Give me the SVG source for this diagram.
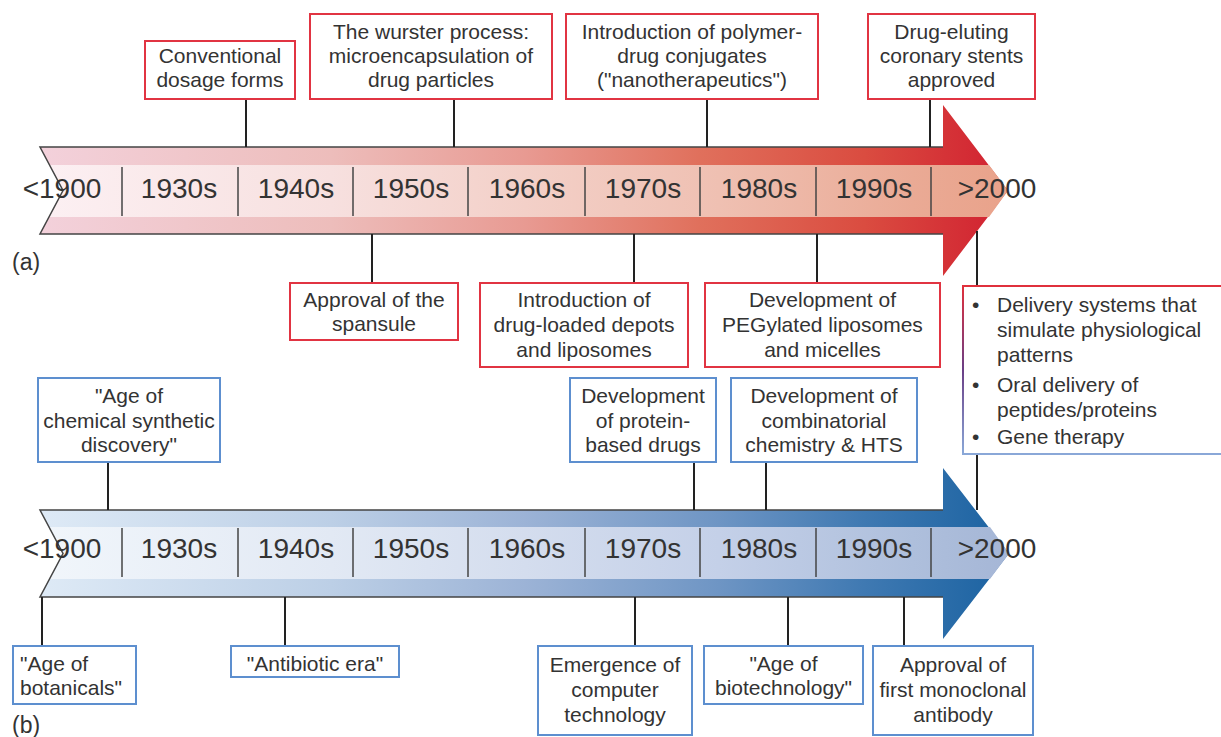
<svg xmlns="http://www.w3.org/2000/svg" width="1221" height="737" viewBox="0 0 1221 737">
<defs>
<linearGradient id="redOuter" gradientUnits="userSpaceOnUse" x1="40" y1="0" x2="1010" y2="0">
<stop offset="0" stop-color="#f3d1db"/>
<stop offset="0.3" stop-color="#edbdbb"/>
<stop offset="0.5" stop-color="#e89a92"/>
<stop offset="0.68" stop-color="#e0705c"/>
<stop offset="0.85" stop-color="#da4c40"/>
<stop offset="1" stop-color="#d11f30"/>
</linearGradient>
<linearGradient id="redBand" gradientUnits="userSpaceOnUse" x1="40" y1="0" x2="1010" y2="0">
<stop offset="0" stop-color="#fcf0f3"/>
<stop offset="0.3" stop-color="#f7e0df"/>
<stop offset="0.5" stop-color="#f3d0c8"/>
<stop offset="0.7" stop-color="#efc0b2"/>
<stop offset="0.9" stop-color="#eaaa95"/>
<stop offset="1" stop-color="#e9a28a"/>
</linearGradient>
<linearGradient id="blueOuter" gradientUnits="userSpaceOnUse" x1="40" y1="0" x2="1010" y2="0">
<stop offset="0" stop-color="#deeaf6"/>
<stop offset="0.3" stop-color="#bccfe6"/>
<stop offset="0.5" stop-color="#9cb3d6"/>
<stop offset="0.7" stop-color="#6e95c4"/>
<stop offset="0.85" stop-color="#3f79b2"/>
<stop offset="1" stop-color="#1a62a1"/>
</linearGradient>
<linearGradient id="blueBand" gradientUnits="userSpaceOnUse" x1="40" y1="0" x2="1010" y2="0">
<stop offset="0" stop-color="#f1f6fb"/>
<stop offset="0.3" stop-color="#e2e9f4"/>
<stop offset="0.5" stop-color="#d4ddee"/>
<stop offset="0.7" stop-color="#c4d0e8"/>
<stop offset="0.9" stop-color="#aebfdc"/>
<stop offset="1" stop-color="#a5b6d6"/>
</linearGradient>
<linearGradient id="mixStroke" x1="0" y1="0" x2="0" y2="1">
<stop offset="0" stop-color="#e0303c"/>
<stop offset="0.5" stop-color="#6a3f86"/>
<stop offset="1" stop-color="#8aa8d8"/>
</linearGradient>
<style>
.t{font-family:"Liberation Sans",Arial,sans-serif;font-size:21px;fill:#333;text-anchor:middle}
.tl{font-family:"Liberation Sans",Arial,sans-serif;font-size:21px;fill:#333}
.yr{font-family:"Liberation Sans",Arial,sans-serif;font-size:28px;fill:#333;text-anchor:middle}
.lab{font-family:"Liberation Sans",Arial,sans-serif;font-size:23px;fill:#333}
.rb{fill:#fff;stroke:#e13442;stroke-width:2}
.bb{fill:#fff;stroke:#5d8fcf;stroke-width:2}
.con{stroke:#222;stroke-width:2;fill:none}
.edge{stroke:#444;stroke-width:1.5;fill:none}
.div{stroke:#444;stroke-width:1.5}
</style>
</defs>
<rect width="1221" height="737" fill="#fff"/>

<!-- Arrow (a) -->
<g id="arrow-a">
<path d="M40,147 L943,147 L943,105 L1008,190.5 L943,276 L943,234 L40,234 L63,190.5 Z" fill="url(#redOuter)"/>
<path d="M49.5,165 L989,165 L1008,190.5 L989,217 L49,217 L63,190.5 Z" fill="url(#redBand)"/>
<path class="edge" d="M943,147 L40,147 L63,190.5 L40,234 L943,234"/>
<g class="div">
<line x1="122" y1="167" x2="122" y2="216"/><line x1="238" y1="167" x2="238" y2="216"/>
<line x1="353" y1="167" x2="353" y2="216"/><line x1="468" y1="167" x2="468" y2="216"/>
<line x1="585" y1="167" x2="585" y2="216"/><line x1="700" y1="167" x2="700" y2="216"/>
<line x1="816" y1="167" x2="816" y2="216"/><line x1="931" y1="167" x2="931" y2="216"/>
</g>
<text class="yr" x="62" y="198">&lt;1900</text>
<text class="yr" x="179" y="198">1930s</text>
<text class="yr" x="296" y="198">1940s</text>
<text class="yr" x="411" y="198">1950s</text>
<text class="yr" x="527" y="198">1960s</text>
<text class="yr" x="643" y="198">1970s</text>
<text class="yr" x="759" y="198">1980s</text>
<text class="yr" x="874" y="198">1990s</text>
<text class="yr" x="997" y="198">&gt;2000</text>
</g>
<text class="lab" x="12" y="270">(a)</text>

<!-- Arrow (b) -->
<g id="arrow-b">
<path d="M40,510 L943,510 L943,468 L1009,553.5 L943,639 L943,597 L40,597 L63,553.5 Z" fill="url(#blueOuter)"/>
<path d="M49.5,527 L990,527 L1009,553.5 L990,579 L49,579 L63,553.5 Z" fill="url(#blueBand)"/>
<path class="edge" d="M943,510 L40,510 L63,553.5 L40,597 L943,597"/>
<g class="div">
<line x1="122" y1="528" x2="122" y2="577"/><line x1="238" y1="528" x2="238" y2="577"/>
<line x1="353" y1="528" x2="353" y2="577"/><line x1="468" y1="528" x2="468" y2="577"/>
<line x1="585" y1="528" x2="585" y2="577"/><line x1="700" y1="528" x2="700" y2="577"/>
<line x1="816" y1="528" x2="816" y2="577"/><line x1="931" y1="528" x2="931" y2="577"/>
</g>
<text class="yr" x="62" y="558">&lt;1900</text>
<text class="yr" x="179" y="558">1930s</text>
<text class="yr" x="296" y="558">1940s</text>
<text class="yr" x="411" y="558">1950s</text>
<text class="yr" x="527" y="558">1960s</text>
<text class="yr" x="643" y="558">1970s</text>
<text class="yr" x="759" y="558">1980s</text>
<text class="yr" x="874" y="558">1990s</text>
<text class="yr" x="997" y="558">&gt;2000</text>
</g>
<text class="lab" x="12" y="733">(b)</text>

<!-- Connectors -->
<g id="connectors" class="con">
<line x1="246" y1="99" x2="246" y2="147"/>
<line x1="454" y1="99" x2="454" y2="147"/>
<line x1="707" y1="99" x2="707" y2="147"/>
<line x1="930" y1="99" x2="930" y2="147"/>
<line x1="372" y1="234" x2="372" y2="283"/>
<line x1="634" y1="234" x2="634" y2="283"/>
<line x1="817" y1="234" x2="817" y2="283"/>
<line x1="977" y1="231" x2="977" y2="286"/>
<line x1="977" y1="454" x2="977" y2="510"/>
<line x1="108" y1="462" x2="108" y2="510"/>
<line x1="694" y1="462" x2="694" y2="510"/>
<line x1="766" y1="462" x2="766" y2="510"/>
<line x1="42" y1="597" x2="42" y2="646"/>
<line x1="285" y1="597" x2="285" y2="646"/>
<line x1="635" y1="597" x2="635" y2="646"/>
<line x1="788" y1="597" x2="788" y2="646"/>
<line x1="904" y1="597" x2="904" y2="646"/>
</g>

<!-- Red nodes (a) -->
<g id="conventional">
<rect class="rb" x="145" y="41" width="150" height="58"/>
<text class="t" x="220" y="63">Conventional</text>
<text class="t" x="220" y="87">dosage forms</text>
</g>
<g id="wurster">
<rect class="rb" x="310" y="14" width="242" height="85"/>
<text class="t" x="431" y="39">The wurster process:</text>
<text class="t" x="431" y="63">microencapsulation of</text>
<text class="t" x="431" y="87">drug particles</text>
</g>
<g id="polymer">
<rect class="rb" x="566" y="14" width="252" height="85"/>
<text class="t" x="692" y="39">Introduction of polymer-</text>
<text class="t" x="692" y="63">drug conjugates</text>
<text class="t" x="692" y="87">("nanotherapeutics")</text>
</g>
<g id="stents">
<rect class="rb" x="868" y="14" width="167" height="85"/>
<text class="t" x="951.5" y="39">Drug-eluting</text>
<text class="t" x="951.5" y="63">coronary stents</text>
<text class="t" x="951.5" y="87">approved</text>
</g>
<g id="spansule">
<rect class="rb" x="290" y="283" width="168" height="57"/>
<text class="t" x="374" y="307">Approval of the</text>
<text class="t" x="374" y="331">spansule</text>
</g>
<g id="depots">
<rect class="rb" x="480" y="283" width="208" height="84"/>
<text class="t" x="584" y="307">Introduction of</text>
<text class="t" x="584" y="332">drug-loaded depots</text>
<text class="t" x="584" y="357">and liposomes</text>
</g>
<g id="pegylated">
<rect class="rb" x="705" y="283" width="235" height="84"/>
<text class="t" x="822.5" y="307">Development of</text>
<text class="t" x="822.5" y="332">PEGylated liposomes</text>
<text class="t" x="822.5" y="357">and micelles</text>
</g>
<g id="future">
<rect x="963" y="286" width="262" height="168" fill="#fff" stroke="url(#mixStroke)" stroke-width="2"/>
<text class="tl" x="972" y="312">•</text>
<text class="tl" x="997" y="312">Delivery systems that</text>
<text class="tl" x="997" y="337">simulate physiological</text>
<text class="tl" x="997" y="362">patterns</text>
<text class="tl" x="972" y="392">•</text>
<text class="tl" x="997" y="392">Oral delivery of</text>
<text class="tl" x="997" y="417">peptides/proteins</text>
<text class="tl" x="972" y="444">•</text>
<text class="tl" x="997" y="444">Gene therapy</text>
</g>

<!-- Blue nodes (b) -->
<g id="chemical">
<rect class="bb" x="38" y="378" width="182" height="84"/>
<text class="t" x="129" y="403">"Age of</text>
<text class="t" x="129" y="428">chemical synthetic</text>
<text class="t" x="129" y="452">discovery"</text>
</g>
<g id="protein">
<rect class="bb" x="570" y="378" width="146" height="84"/>
<text class="t" x="643" y="403">Development</text>
<text class="t" x="643" y="428">of protein-</text>
<text class="t" x="643" y="452">based drugs</text>
</g>
<g id="combinatorial">
<rect class="bb" x="731" y="378" width="186" height="84"/>
<text class="t" x="824" y="403">Development of</text>
<text class="t" x="824" y="428">combinatorial</text>
<text class="t" x="824" y="452">chemistry &amp; HTS</text>
</g>
<g id="botanicals">
<rect class="bb" x="13" y="646" width="123" height="58"/>
<text class="tl" x="20" y="671">"Age of</text>
<text class="tl" x="20" y="695">botanicals"</text>
</g>
<g id="antibiotic">
<rect class="bb" x="231" y="646" width="168" height="31"/>
<text class="t" x="315" y="671">"Antibiotic era"</text>
</g>
<g id="computer">
<rect class="bb" x="538" y="646" width="154" height="89"/>
<text class="t" x="615" y="672">Emergence of</text>
<text class="t" x="615" y="697">computer</text>
<text class="t" x="615" y="722">technology</text>
</g>
<g id="biotech">
<rect class="bb" x="704" y="646" width="159" height="58"/>
<text class="t" x="783.5" y="671">"Age of</text>
<text class="t" x="783.5" y="695">biotechnology"</text>
</g>
<g id="monoclonal">
<rect class="bb" x="873" y="646" width="160" height="89"/>
<text class="t" x="953" y="672">Approval of</text>
<text class="t" x="953" y="697">first monoclonal</text>
<text class="t" x="953" y="722">antibody</text>
</g>
</svg>
